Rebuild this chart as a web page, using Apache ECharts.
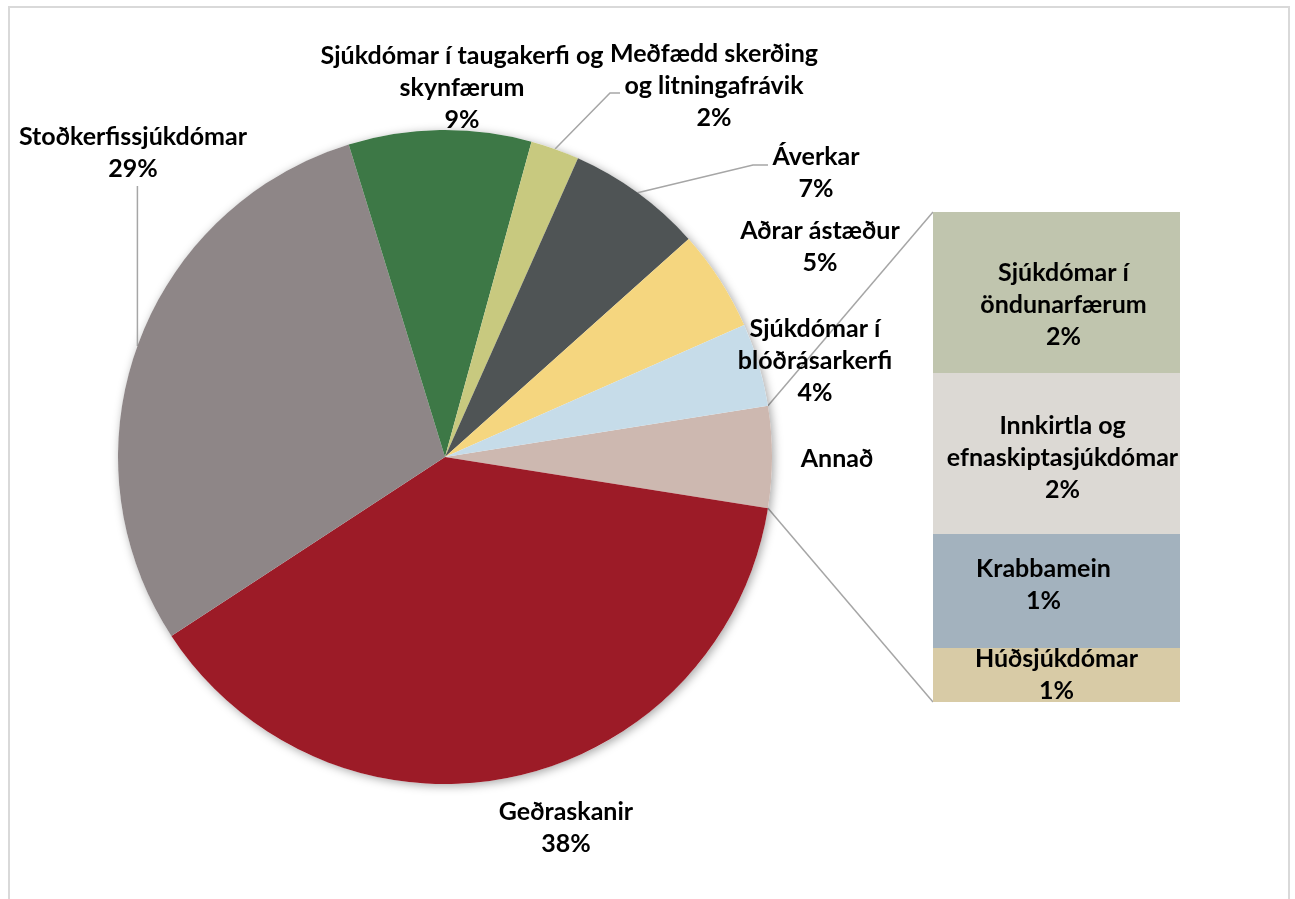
<!DOCTYPE html>
<html>
<head>
<meta charset="utf-8">
<script src="https://cdn.jsdelivr.net/npm/echarts@6/dist/echarts.min.js"></script>
<style>
  html, body { margin: 0; padding: 0; background: #fff; }
  #chart { width: 1295px; height: 899px; }
</style>
</head>
<body>
<div id="chart"></div>
<script>
// main slices, clockwise starting from "Annað" (which is broken out into the bar)
const pieNames = ['Annað', 'Geðraskanir', 'Stoðkerfissjúkdómar', 'Sjúkdómar í taugakerfi og skynfærum',
  'Meðfædd skerðing og litningafrávik', 'Áverkar', 'Aðrar ástæður', 'Sjúkdómar í blóðrásarkerfi'];
const pieLabels = ['Annað', 'Geðraskanir', 'Stoðkerfissjúkdómar', 'Sjúkdómar í taugakerfi og\nskynfærum',
  'Meðfædd skerðing\nog litningafrávik', 'Áverkar', 'Aðrar ástæður', 'Sjúkdómar í\nblóðrásarkerfi'];
const pieValues = [38.2, 29.4, 9.0, 2.4, 6.7, 5.0, 4.1]; // everything except Annað

// breakdown of "Annað", top to bottom
const barNames = ['Sjúkdómar í öndunarfærum', 'Innkirtla og efnaskiptasjúkdómar', 'Krabbamein', 'Húðsjúkdómar'];
const barLabels = ['Sjúkdómar í\nöndunarfærum', 'Innkirtla og\nefnaskiptasjúkdómar', 'Krabbamein', 'Húðsjúkdómar'];
const barValues = [1.64, 1.64, 1.16, 0.55];

const pieColors = ['#cdb8b0', '#9c1b27', '#8e8687', '#3d7846', '#c8c97f', '#4f5455', '#f5d67f', '#c6dce9'];
const barColors = ['#c0c5ae', '#dcd9d4', '#a3b2be', '#d8cba6'];

// layout
const CX = 445, CY = 457, R = 327;
const BAR = { left: 933, top: 212, width: 247, height: 490 };
const pieLabelPos = [[837, 459], [566, 828], [133, 153], [462, 88], [714, 86], [816, 173], [820, 247], [815, 361]];
const barLabelOffset = [[7, 12], [6, 4], [-13, -6], [0, 0]];
const FONT = 'Lato, "Noto Sans", sans-serif';
const LINE = '#a6a6a6';

const annad = barValues.reduce((a, b) => a + b, 0);
const allValues = [annad].concat(pieValues);
const total = allValues.reduce((a, b) => a + b, 0);
const startAngle = annad / total * 180; // centre "Annað" on 3 o'clock

const edgePoint = (idx) => {
  let before = 0;
  for (let i = 0; i < idx; i++) before += allValues[i];
  const ang = (startAngle - (before + allValues[idx] / 2) / total * 360) * Math.PI / 180;
  return [CX + R * Math.cos(ang), CY - R * Math.sin(ang)];
};

const leaderEnds = {
  2: (e) => [[e[0], 186], [e[0], 186]],
  4: () => [[610, 93], [620, 93]],
  5: () => [[753, 165], [768, 165]]
};

const labelFont = { color: '#000', fontFamily: FONT, fontWeight: 'bold', fontSize: 25, lineHeight: 32 };

const chart = echarts.init(document.getElementById('chart'));

const pieData = pieNames.map((name, i) => ({
  name: name,
  value: allValues[i],
  itemStyle: { color: pieColors[i] },
  labelLine: { show: !!leaderEnds[i] }
}));

const barSeries = barNames.map((name, i) => ({
  name: name,
  type: 'bar',
  stack: 'annad',
  barWidth: '100%',
  data: [barValues[i]],
  itemStyle: { color: barColors[i] },
  label: Object.assign({
    show: true,
    position: 'inside',
    align: 'center',
    offset: barLabelOffset[i],
    formatter: (p) => barLabels[i] + '\n' + Math.round(p.value) + '%'
  }, labelFont)
})).reverse();

const halfAng = startAngle * Math.PI / 180;
const pieTop = [CX + R * Math.cos(halfAng), CY - R * Math.sin(halfAng)];
const pieBottom = [CX + R * Math.cos(halfAng), CY + R * Math.sin(halfAng)];

const option = {
  animation: false,
  backgroundColor: '#fff',
  grid: { left: BAR.left, top: BAR.top, width: BAR.width, height: BAR.height },
  xAxis: { type: 'category', data: ['Annað'], show: false },
  yAxis: { type: 'value', min: 0, max: annad, show: false },
  graphic: [
    { type: 'rect', shape: { x: 9, y: 7, width: 1280, height: 920 }, style: { fill: null, stroke: '#d9d9d9', lineWidth: 2 }, silent: true, z: -10 },
    { type: 'line', shape: { x1: pieTop[0], y1: pieTop[1], x2: BAR.left, y2: BAR.top }, style: { stroke: LINE, lineWidth: 1.5 }, silent: true },
    { type: 'line', shape: { x1: pieBottom[0], y1: pieBottom[1], x2: BAR.left, y2: BAR.top + BAR.height }, style: { stroke: LINE, lineWidth: 1.5 }, silent: true }
  ],
  series: [
    {
      // soft shadow under the pie
      type: 'pie',
      silent: true,
      center: [CX, CY],
      radius: R,
      z: 1,
      label: { show: false },
      labelLine: { show: false },
      itemStyle: { color: '#fff', shadowBlur: 10, shadowColor: 'rgba(0,0,0,0.35)', shadowOffsetX: 2, shadowOffsetY: 2 },
      data: [{ name: '', value: total }]
    },
    {
      type: 'pie',
      center: [CX, CY],
      radius: R,
      startAngle: startAngle,
      clockwise: true,
      z: 2,
      avoidLabelOverlap: false,
      label: Object.assign({
        show: true,
        position: 'outside',
        formatter: (p) => p.dataIndex === 0 ? pieLabels[0] : pieLabels[p.dataIndex] + '\n' + Math.round(p.value) + '%'
      }, labelFont),
      labelLine: { show: false, lineStyle: { color: LINE, width: 1.5 } },
      labelLayout: (p) => {
        const pos = pieLabelPos[p.dataIndex];
        const out = { x: pos[0], y: pos[1], align: 'center', verticalAlign: 'middle' };
        const lead = leaderEnds[p.dataIndex];
        if (lead) {
          const e = edgePoint(p.dataIndex);
          out.labelLinePoints = [e].concat(lead(e));
        }
        return out;
      },
      data: pieData
    }
  ].concat(barSeries)
};

chart.setOption(option);
window.addEventListener('resize', () => chart.resize());
</script>
</body>
</html>
